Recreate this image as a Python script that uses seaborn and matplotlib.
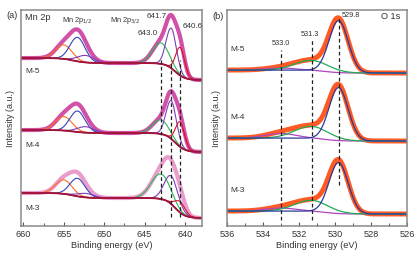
import numpy as np
import pandas as pd
import matplotlib

matplotlib.use("Agg")
import matplotlib.pyplot as plt
import seaborn as sns
from matplotlib.ticker import MultipleLocator

# ---- Mn 2p fit (panel a) ----
SAMPLES = ["M-5", "M-4", "M-3"]
MN_CENTERS = [655.0, 653.3, 652.3, 643.0, 641.7, 640.6]
MN_FWHM = [2.4, 2.2, 2.4, 2.4, 1.5, 1.3]
MN_FWHM_M3 = [2.4, 2.2, 2.4, 2.8, 2.0, 1.5]
MN_HEIGHTS_M5 = [14, 24, 7, 21, 40, 28]
MN_HEIGHTS_M4 = [14, 21, 6, 14, 38, 25]
MN_HEIGHTS_M3 = [14, 18, 4, 25, 28, 11]
MN_BG_BASE = [146, 74, 8]      # background level at the low-BE end
MN_BG_STEP32 = [17, 19, 20]    # background step under 2p3/2
MN_BG_STEP12 = [5, 3, 5]       # background step under 2p1/2
MN_MARKS = [643.0, 641.7, 640.6]

# ---- O 1s fit (panel b) ----
O_CENTERS = [533.0, 531.3, 529.8]
O_FWHM = [2.0, 2.2, 1.25]
O_HEIGHTS_M5 = [2, 10, 52]
O_HEIGHTS_M4 = [4.5, 12, 53]
O_HEIGHTS_M3 = [3, 11, 51]
O_BG_BASE = [153, 85, 12]
O_BG_STEP = [3, 3, 3]
O_MARKS = [533.0, 531.3, 529.8]

MN_COLORS = ["#FF6A22", "#3344BB", "#7B3FBB", "#22BB55", "#7B3FBB", "#DD1122"]
O_COLORS = ["#B044C0", "#22AA55", "#2B3A9A"]
TEXT = "#333333"
FONT = ["Liberation Sans", "DejaVu Sans"]


def gauss(e, c, h, fwhm):
    sigma = fwhm / 2.3548
    return h * np.exp(-0.5 * ((e - c) / sigma) ** 2)


def step(e, c, w):
    return 0.5 * (1 + np.tanh((e - c) / w))


def line(ax, x, y, color, lw):
    sns.lineplot(x=x, y=y, ax=ax, color=color, linewidth=lw, estimator=None, sort=False)


def style_axes(ax, xlim, major, minor):
    ax.set_xlim(*xlim)
    ax.set_ylim(0, 216)
    ax.set_yticks([])
    ax.xaxis.set_major_locator(MultipleLocator(major))
    ax.xaxis.set_minor_locator(MultipleLocator(minor))
    ax.tick_params(axis="x", which="major", direction="in", length=3, width=0.8,
                   labelsize=6.6, pad=3, colors="#555555", labelcolor=TEXT)
    ax.tick_params(axis="x", which="minor", direction="in", length=2, width=0.7,
                   colors="#555555")
    for sp in ax.spines.values():
        sp.set_color("#8a8a8a")
        sp.set_linewidth(1.1)
    ax.set_xlabel("Binding energy (eV)", fontsize=6.6, color=TEXT, labelpad=1.5)
    ax.set_ylabel("Intensity (a.u.)", fontsize=6.4, color=TEXT, labelpad=4)


sns.set_theme(style="ticks")
plt.rcParams["font.family"] = FONT
fig = plt.figure(figsize=(4.18, 2.58), dpi=100)
ax_a = fig.add_axes([0.0502, 0.124, 0.433, 0.837])
ax_b = fig.add_axes([0.543, 0.124, 0.4306, 0.837])

# ---- panel (a) ----
e_mn = np.linspace(637.5, 660.5, 700)
mn_heights = [MN_HEIGHTS_M5, MN_HEIGHTS_M4, MN_HEIGHTS_M3]
mn_widths = [MN_FWHM, MN_FWHM, MN_FWHM_M3]
env_colors = ["#D150A8", "#D150A8", "#EA9CCC"]
for i, name in enumerate(SAMPLES):
    bg = (MN_BG_BASE[i] + MN_BG_STEP32[i] * step(e_mn, 641.2, 1.2)
          + MN_BG_STEP12[i] * step(e_mn, 653.8, 1.5))
    comps = [gauss(e_mn, c, h, w) for c, h, w in zip(MN_CENTERS, mn_heights[i], mn_widths[i])]
    env = bg + np.sum(comps, axis=0)
    line(ax_a, e_mn, env, env_colors[i], 3.0)
    for comp, col in zip(comps, MN_COLORS):
        line(ax_a, e_mn, bg + comp, col, 0.8)
    line(ax_a, e_mn, bg, "#A3143A", 1.3)

for x0, top, bottom in zip(MN_MARKS, [166, 166, 166], [26, 9, 9]):
    ax_a.plot([x0, x0], [bottom, top], color="#222222", lw=0.9, ls=(0, (3, 2.2)))

style_axes(ax_a, (660.3, 637.9), 5, 2.5)
ax_a.text(659.8, 209, "Mn 2p", fontsize=6.6, color=TEXT, va="center", ha="left")
ax_a.text(653.3, 206, "Mn 2p$_{1/2}$", fontsize=5.3, color=TEXT, va="center", ha="center")
ax_a.text(647.4, 206, "Mn 2p$_{3/2}$", fontsize=5.3, color=TEXT, va="center", ha="center")
ax_a.text(643.5, 210, "641.7", fontsize=5.8, color=TEXT, va="center", ha="center")
ax_a.text(644.6, 193, "643.0", fontsize=5.8, color=TEXT, va="center", ha="center")
ax_a.text(639.0, 200, "640.6", fontsize=5.8, color=TEXT, va="center", ha="center", clip_on=False)
for name, y in zip(SAMPLES, [155, 81, 18]):
    ax_a.text(659.8, y, name, fontsize=6, color=TEXT, va="center", ha="left")
ax_a.text(-0.05, 0.977, "(a)", transform=ax_a.transAxes, fontsize=6.6, color=TEXT,
          va="center", ha="center")

# ---- panel (b) ----
e_o = np.linspace(525.5, 536.5, 500)
o_heights = [O_HEIGHTS_M5, O_HEIGHTS_M4, O_HEIGHTS_M3]
for i, name in enumerate(SAMPLES):
    bg = O_BG_BASE[i] + O_BG_STEP[i] * step(e_o, 530.5, 0.8)
    comps = [gauss(e_o, c, h, w) for c, h, w in zip(O_CENTERS, o_heights[i], O_FWHM)]
    env = bg + np.sum(comps, axis=0)
    line(ax_b, e_o, env, "#FF5A24", 3.6)
    for comp, col in zip(comps, O_COLORS):
        line(ax_b, e_o, bg + comp, col, 0.9)

for x0, top, bottom in zip(O_MARKS, [176, 188, 209], [6, 6, 41]):
    ax_b.plot([x0, x0], [bottom, top], color="#222222", lw=0.9, ls=(0, (3, 2.2)))

style_axes(ax_b, (536, 526), 2, 1)
ax_b.text(526.9, 210, "O 1s", fontsize=6.6, color=TEXT, va="center", ha="center")
ax_b.text(529.1, 211, "529.8", fontsize=5.3, color=TEXT, va="center", ha="center")
ax_b.text(531.4, 192, "531.3", fontsize=5.3, color=TEXT, va="center", ha="center")
ax_b.text(533.0, 183, "533.0", fontsize=5.3, color=TEXT, va="center", ha="center")
for name, y in zip(SAMPLES, [177, 109, 36]):
    ax_b.text(535.8, y, name, fontsize=6, color=TEXT, va="center", ha="left")
ax_b.text(-0.05, 0.968, "(b)", transform=ax_b.transAxes, fontsize=6.6, color=TEXT,
          va="center", ha="center")

fig.savefig("out.png", dpi=100)
